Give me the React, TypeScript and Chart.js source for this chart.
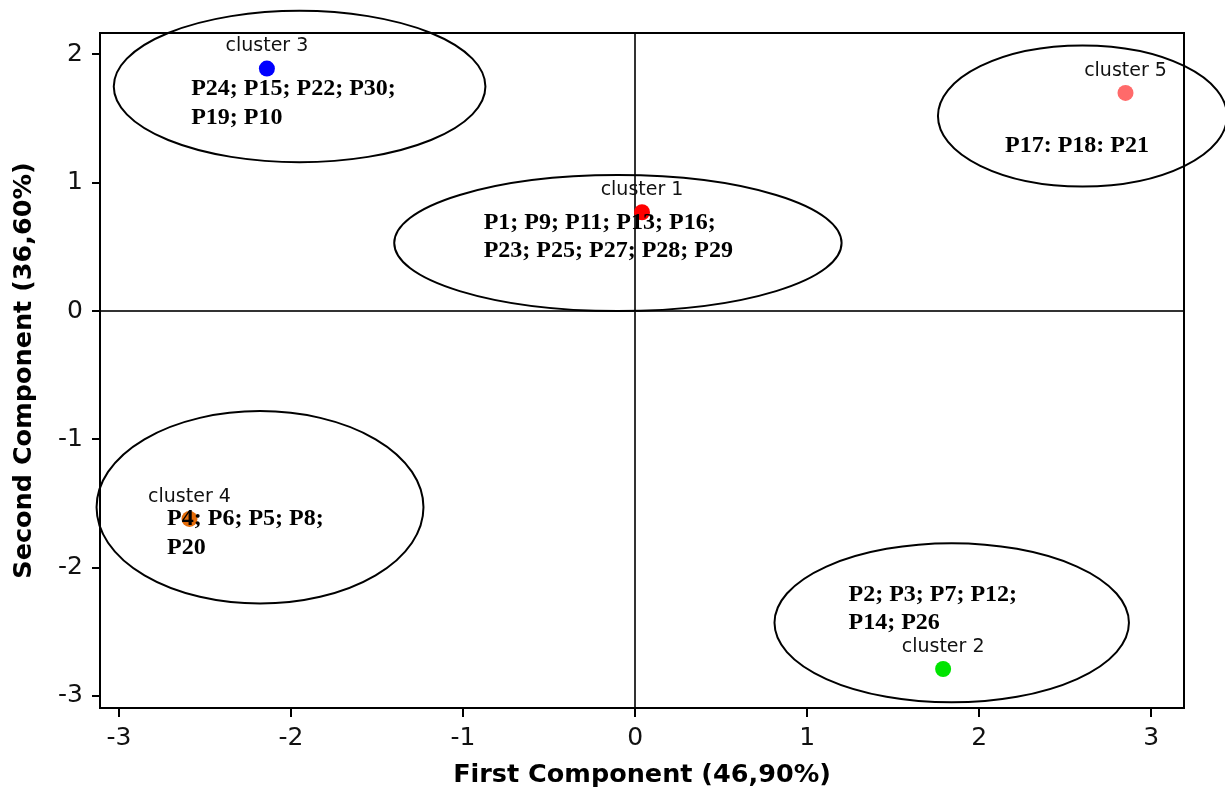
import React, { useEffect, useRef } from "react";
import { Chart, registerables } from "chart.js";

Chart.register(...registerables);

// ---- data ----
const clusterNames = ["cluster 1", "cluster 2", "cluster 3", "cluster 4", "cluster 5"];
const firstComponent = [0.04, 1.79, -2.14, -2.59, 2.85];
const secondComponent = [0.77, -2.79, 1.89, -1.62, 1.7];
const clusterMembers = [
  ["P1; P9; P11; P13; P16;", "P23; P25; P27; P28; P29"],
  ["P2; P3; P7; P12;", "P14; P26"],
  ["P24; P15; P22; P30;", "P19; P10"],
  ["P4; P6; P5; P8;", "P20"],
  ["P17: P18: P21"],
];
// cluster ellipses (data units)
const ellipseCenterX = [-0.1, 1.84, -1.95, -2.18, 2.6];
const ellipseCenterY = [0.53, -2.43, 1.75, -1.53, 1.52];
const ellipseRadiusX = [1.3, 1.03, 1.08, 0.95, 0.84];
const ellipseRadiusY = [0.53, 0.62, 0.59, 0.75, 0.55];
// member-list anchors (data units)
const memberAnchorX = [-0.88, 1.24, -2.58, -2.72, 2.15];
const memberAnchorY = [0.69, -2.21, 1.73, -1.62, 1.29];

const xTickValues = [-3, -2, -1, 0, 1, 2, 3];
const yTickValues = [-3, -2, -1, 0, 1, 2];
const xTitle = "First Component (46,90%)";
const yTitle = "Second Component (36,60%)";

// ---- styles ----
const pointColors = ["#ff0000", "#00e400", "#0000ff", "#e46c0a", "#ff6a6a"];
const SANS = "'DejaVu Sans', Verdana, sans-serif";
const SERIF = "'Liberation Serif', 'Times New Roman', serif";

const annotationPlugin = {
  id: "clusterAnnotations",
  afterDraw(chart: any) {
    const { ctx, chartArea, scales } = chart;
    const xs = scales.x;
    const ys = scales.y;
    ctx.save();
    // top and right frame
    ctx.strokeStyle = "#000";
    ctx.lineWidth = 2;
    ctx.beginPath();
    ctx.moveTo(chartArea.left, chartArea.top);
    ctx.lineTo(chartArea.right, chartArea.top);
    ctx.lineTo(chartArea.right, chartArea.bottom);
    ctx.stroke();

    // ellipses
    for (let i = 0; i < clusterNames.length; i++) {
      const cx = xs.getPixelForValue(ellipseCenterX[i]);
      const cy = ys.getPixelForValue(ellipseCenterY[i]);
      const rx = Math.abs(xs.getPixelForValue(ellipseCenterX[i] + ellipseRadiusX[i]) - cx);
      const ry = Math.abs(ys.getPixelForValue(ellipseCenterY[i] + ellipseRadiusY[i]) - cy);
      ctx.beginPath();
      ctx.ellipse(cx, cy, rx, ry, 0, 0, Math.PI * 2);
      ctx.strokeStyle = "#000";
      ctx.lineWidth = 2;
      ctx.stroke();
    }

    // cluster names
    ctx.fillStyle = "#111";
    ctx.font = `19px ${SANS}`;
    ctx.textAlign = "center";
    ctx.textBaseline = "middle";
    for (let i = 0; i < clusterNames.length; i++) {
      const px = xs.getPixelForValue(firstComponent[i]);
      const py = ys.getPixelForValue(secondComponent[i]);
      ctx.fillText(clusterNames[i], px, py - 22);
    }

    // member lists
    ctx.fillStyle = "#000";
    ctx.font = `bold 24px ${SERIF}`;
    ctx.textAlign = "left";
    for (let i = 0; i < clusterMembers.length; i++) {
      const lx = xs.getPixelForValue(memberAnchorX[i]);
      const ly = ys.getPixelForValue(memberAnchorY[i]);
      clusterMembers[i].forEach((line, j) => {
        ctx.fillText(line, lx, ly + j * 28.5);
      });
    }
    ctx.restore();
  },
};

export default function App() {
  const canvasRef = useRef<HTMLCanvasElement | null>(null);

  useEffect(() => {
    if (!canvasRef.current) return;
    const chart = new Chart(canvasRef.current, {
      type: "scatter",
      data: {
        datasets: [
          {
            data: firstComponent.map((v, i) => ({ x: v, y: secondComponent[i] })),
            pointBackgroundColor: pointColors,
            pointBorderColor: pointColors,
            pointBorderWidth: 0,
            pointRadius: 8,
          },
        ],
      },
      options: {
        animation: false,
        responsive: false,
        layout: { padding: { top: 33, right: 41, left: 0, bottom: 0 } },
        plugins: {
          legend: { display: false },
          tooltip: { enabled: false },
        },
        scales: {
          x: {
            type: "linear",
            min: -3.11,
            max: 3.19,
            afterBuildTicks: (scale: any) => {
              scale.ticks = xTickValues.map((v) => ({ value: v }));
            },
            afterFit: (scale: any) => {
              scale.height = 80;
            },
            border: { display: true, color: "#000", width: 2 },
            grid: {
              color: (c: any) => (c.tick && c.tick.value === 0 ? "#333" : "rgba(0,0,0,0)"),
              lineWidth: 2,
              tickColor: "#000",
              tickLength: 9,
              tickWidth: 2,
            },
            ticks: {
              color: "#111",
              padding: 6,
              font: { family: SANS, size: 25 },
              callback: (v: any) => String(v),
            },
            title: {
              display: true,
              text: xTitle,
              color: "#000",
              font: { family: SANS, size: 25.5, weight: "bold", lineHeight: 1 },
              padding: { top: 0, bottom: 0 },
            },
          },
          y: {
            type: "linear",
            min: -3.094,
            max: 2.167,
            afterBuildTicks: (scale: any) => {
              scale.ticks = yTickValues.map((v) => ({ value: v }));
            },
            afterFit: (scale: any) => {
              scale.width = 100;
            },
            border: { display: true, color: "#000", width: 2 },
            grid: {
              color: (c: any) => (c.tick && c.tick.value === 0 ? "#333" : "rgba(0,0,0,0)"),
              lineWidth: 2,
              tickColor: "#000",
              tickLength: 8,
              tickWidth: 2,
            },
            ticks: {
              color: "#111",
              padding: 9,
              font: { family: SANS, size: 25 },
              callback: (v: any) => String(v),
            },
            title: {
              display: true,
              text: yTitle,
              color: "#000",
              font: { family: SANS, size: 25.5, weight: "bold", lineHeight: 1 },
              padding: { top: 12, bottom: 0 },
            },
          },
        },
      },
      plugins: [annotationPlugin],
    } as any);
    return () => chart.destroy();
  }, []);

  return (
    <div style={{ position: "absolute", left: 0, top: 0, width: 1225, height: 788, background: "#fff" }}>
      <canvas ref={canvasRef} width={1225} height={788} />
    </div>
  );
}
